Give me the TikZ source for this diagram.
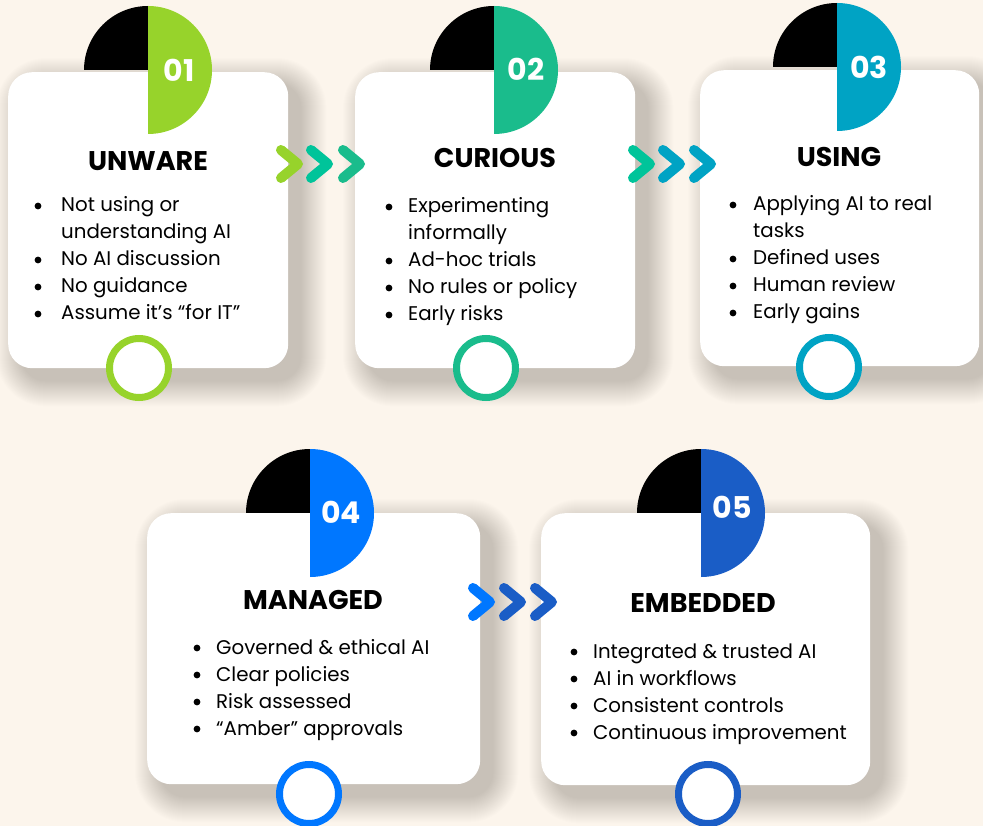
\documentclass[tikz,border=0pt]{standalone}
\usepackage{fontspec}
\setmainfont{Poppins}
\usetikzlibrary{positioning}
\definecolor{cream}{HTML}{FCF5EC}
\definecolor{stepone}{HTML}{97D32B}
\definecolor{steptwo}{HTML}{1ABC8C}
\definecolor{stepmint}{HTML}{00C49A}
\definecolor{stepthree}{HTML}{00A3C4}
\definecolor{stepfour}{HTML}{0077FF}
\definecolor{stepfive}{HTML}{1A5DC6}
\pgfdeclarelayer{background}
\pgfsetlayers{background,main}
\tikzset{
%%%%%%%%%%  Card styles
card/.style={fill=white, rounded corners=24pt, inner sep=0pt, anchor=north west},
quarter/.style={fill=black},
halfdisc/.style={fill=#1},
numtext/.style={text=white, font=\fontsize{30}{30}\selectfont\bfseries},
stagetitle/.style={font=\fontsize{27}{27}\selectfont\bfseries},
bulletlist/.style={font=\fontsize{19.8}{27}\selectfont, inner sep=0pt, anchor=base west},
bulletdot/.style={fill=black},
ring/.style={circle, draw=#1, line width=7pt, fill=white, minimum size=59pt, inner sep=0pt},
%%%%%%% soft shadow under the cards
shadowlayer/.style={black, opacity=0.008},
%%%%%%% chevrons between the cards
chevron/.style={draw=#1, line width=10pt, line cap=round, line join=round}
}
\newcommand{\itemlist}[1]{\begin{tabular}[t]{@{}l@{}}#1\end{tabular}}

\begin{document}
\begin{tikzpicture}[x=1pt, y=-1pt]
\useasboundingbox (0,0) rectangle (983,826);
%% centres of the numbered discs
\coordinate (dot1) at (148,70);
\coordinate (dot2) at (494,70);
\coordinate (dot3) at (837,67);
\coordinate (dot4) at (310,513);
\coordinate (dot5) at (701,513);

%% cards
\node[card, minimum width=280pt, minimum height=296pt] (card1) at (8,72) {};
\node[card, minimum width=280pt, minimum height=296pt] (card2) at (355,72) {};
\node[card, minimum width=279pt, minimum height=296pt] (card3) at (700,70) {};
\node[card, minimum width=333pt, minimum height=271pt] (card4) at (147,513) {};
\node[card, minimum width=329pt, minimum height=272pt] (card5) at (541,513) {};

\begin{pgfonlayer}{background}
  \fill[cream] (0,0) rectangle (983,826);
  \foreach \c in {card1,card2,card3,card4,card5}{
    \foreach \i in {1,...,26}
      \fill[shadowlayer, rounded corners=24+\i] ([shift={(14-\i,12-\i)}]\c.north west) rectangle ([shift={(12+\i,12+\i)}]\c.south east);
  }
  \foreach \d in {dot1,dot2,dot3,dot4,dot5}
    \fill[quarter] (\d) -- ++(-64,0) arc[start angle=180, end angle=270, radius=64] -- cycle;
\end{pgfonlayer}

%% coloured halves and numbers
\fill[halfdisc=stepone] (dot1) ++(0,-64) arc[start angle=-90, end angle=90, radius=64] -- cycle;
\fill[halfdisc=steptwo] (dot2) ++(0,-64) arc[start angle=-90, end angle=90, radius=64] -- cycle;
\fill[halfdisc=stepthree] (dot3) ++(0,-64) arc[start angle=-90, end angle=90, radius=64] -- cycle;
\fill[halfdisc=stepfour] (dot4) ++(0,-64) arc[start angle=-90, end angle=90, radius=64] -- cycle;
\fill[halfdisc=stepfive] (dot5) ++(0,-64) arc[start angle=-90, end angle=90, radius=64] -- cycle;
\node[numtext] (num1) at (179,70) {01};
\node[numtext] (num2) at (526,69) {02};
\node[numtext] (num3) at (869,67) {03};
\node[numtext] (num4) at (341,512) {04};
\node[numtext] (num5) at (732,507) {05};

%% titles
\node[stagetitle] (title1) at (148,161) {UNWARE};
\node[stagetitle] (title2) at (495,158) {CURIOUS};
\node[stagetitle] (title3) at (839,157) {USING};
\node[stagetitle] (title4) at (313,600) {MANAGED};
\node[stagetitle] (title5) at (703,603) {EMBEDDED};

%% bullet lists
\node[bulletlist] (list1) at (61,212) {\itemlist{Not using or\\ understanding AI\\ No AI discussion\\ No guidance\\ Assume it’s “for IT”}};
\node[bulletlist] (list2) at (408,213) {\itemlist{Experimenting\\ informally\\ Ad-hoc trials\\ No rules or policy\\ Early risks}};
\node[bulletlist] (list3) at (753,211) {\itemlist{Applying AI to real\\ tasks\\ Defined uses\\ Human review\\ Early gains}};
\node[bulletlist] (list4) at (216,654) {\itemlist{Governed \& ethical AI\\ Clear policies\\ Risk assessed\\ “Amber” approvals}};
\node[bulletlist] (list5) at (593,658) {\itemlist{Integrated \& trusted AI\\ AI in workflows\\ Consistent controls\\ Continuous improvement}};
\foreach \l/\dx/\rows in {list1/23/{0,2,3,4}, list2/19/{0,2,3,4}, list3/20/{0,2,3,4},
                          list4/19/{0,1,2,3}, list5/19/{0,1,2,3}}
  \foreach \r in \rows
    \fill[bulletdot] ([shift={(-\dx,-6+27*\r)}]\l.base west) circle (3.4);

%% rings on the bottom edges
\node[ring=stepone] (ring1) at (139,368) {};
\node[ring=steptwo] (ring2) at (486,368) {};
\node[ring=stepthree] (ring3) at (829,367) {};
\node[ring=stepfour] (ring4) at (309,794) {};
\node[ring=stepfive] (ring5) at (708,794) {};

%% chevrons
\coordinate (gap12) at (298,164);
\coordinate (gap23) at (650,164);
\coordinate (gap45) at (490,602);
\foreach \g/\dx/\col in {gap12/0/stepone, gap12/30/stepmint, gap12/62/steptwo,
                         gap23/0/stepmint, gap23/30/stepthree, gap23/61/stepthree,
                         gap45/0/stepfour, gap45/31/stepfive, gap45/62/stepfive}
  \draw[chevron=\col] ([shift={(\dx-17,-14)}]\g) -- ([shift={(\dx,0)}]\g) -- ([shift={(\dx-17,14)}]\g);
\end{tikzpicture}
\end{document}
